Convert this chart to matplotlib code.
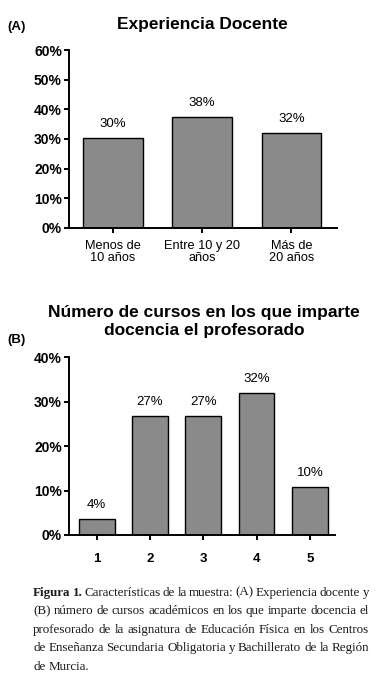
import numpy as np
import matplotlib
matplotlib.use('Agg')
import matplotlib.pyplot as plt

# (A) Experiencia docente
exp_labels = ['Menos de\n10 años', 'Entre 10 y 20\naños', 'Más de\n20 años']
exp_values = [30.4, 37.5, 32.1]
exp_text = ['30%', '38%', '32%']
exp_yticks = [0, 10, 20, 30, 40, 50, 60]

# (B) Número de cursos
cursos_labels = ['1', '2', '3', '4', '5']
cursos_values = [3.6, 26.8, 26.8, 32.0, 10.7]
cursos_text = ['4%', '27%', '27%', '32%', '10%']
cursos_yticks = [0, 10, 20, 30, 40]

caption_lines = [
    'Figura 1. Características de la muestra: (A) Experiencia docente y',
    '(B) número de cursos académicos en los que imparte docencia el',
    'profesorado de la asignatura de Educación Física en los Centros',
    'de Enseñanza Secundaria Obligatoria y Bachillerato de la Región',
    'de Murcia.',
]

W, H = 380, 679
SANS = 'Liberation Sans'
SERIF = 'Liberation Serif'
BAR = '#8a8a8a'

fig = plt.figure(figsize=(W / 100, H / 100), dpi=100)
fig.patch.set_facecolor('white')


def px(x, y):
    # pixel position (from top-left) -> figure coords
    return x / W, 1 - y / H


def axes_px(left, top, right, bottom):
    return fig.add_axes([left / W, 1 - bottom / H, (right - left) / W, (bottom - top) / H])


def bar_panel(ax, labels, values, texts, yticks, xlim, xlabel_pad):
    x = np.arange(len(values))
    ax.bar(x, values, width=0.67, color=BAR, edgecolor='black', linewidth=1.0, zorder=2)
    for xi, v, t in zip(x, values, texts):
        ax.annotate(t, (xi, v), xytext=(0, 8), textcoords='offset points',
                    ha='center', va='baseline', fontsize=9.5, family=SANS)
    ax.set_xlim(*xlim)
    ax.set_ylim(yticks[0], yticks[-1])
    ax.set_yticks(yticks)
    ax.set_yticklabels([f'{t}%' for t in yticks], fontsize=10, fontweight='bold', family=SANS)
    ax.set_xticks(x)
    ax.set_xticklabels(labels, family=SANS)
    for sp in ['top', 'right']:
        ax.spines[sp].set_visible(False)
    for sp in ['left', 'bottom']:
        ax.spines[sp].set_linewidth(1.4)
    ax.tick_params(axis='both', length=3.6, width=1.4, direction='out')
    ax.tick_params(axis='y', pad=1.5)
    ax.tick_params(axis='x', pad=xlabel_pad)
    ax.spines['left'].set_capstyle('projecting')
    ax.spines['bottom'].set_capstyle('projecting')


# panel A
axA = axes_px(69, 50, 337, 228)
bar_panel(axA, exp_labels, exp_values, exp_text, exp_yticks, (-0.49, 2.51), 5)
for lab in axA.get_xticklabels():
    lab.set_fontsize(9.2)
    lab.set_linespacing(1.0)

fig.text(*px(202, 29), 'Experiencia Docente', ha='center', va='baseline',
         fontsize=12.5, fontweight='bold', family=SANS)
fig.text(*px(7, 30), '(A)', ha='left', va='baseline',
         fontsize=9.5, fontweight='bold', family=SANS)

# panel B
axB = axes_px(69, 357.3, 335, 535)
bar_panel(axB, cursos_labels, cursos_values, cursos_text, cursos_yticks, (-0.52, 4.47), 9)
for lab in axB.get_xticklabels():
    lab.set_fontsize(9.5)
    lab.set_fontweight('bold')

fig.text(*px(204, 316.5), 'Número de cursos en los que imparte', ha='center', va='baseline',
         fontsize=12.5, fontweight='bold', family=SANS)
fig.text(*px(204, 335), 'docencia el profesorado', ha='center', va='baseline',
         fontsize=12.5, fontweight='bold', family=SANS)
fig.text(*px(7, 343), '(B)', ha='left', va='baseline',
         fontsize=9.5, fontweight='bold', family=SANS)

# caption, justified by hand
fig.canvas.draw()
r = fig.canvas.get_renderer()
x0, x1 = 33 / W, 369 / W
baselines = [595.7, 614.2, 632.6, 651.0, 669.5]
cap_size = 9.4
for i, line in enumerate(caption_lines):
    yb = 1 - baselines[i] / H
    words = line.split(' ')
    arts = []
    for j, w in enumerate(words):
        bold = (i == 0 and j < 2)
        arts.append(fig.text(0, yb, w, fontsize=cap_size, family=SERIF, va='baseline',
                             fontweight='bold' if bold else 'normal', color='#1a1a1a'))
    widths = [a.get_window_extent(r).width / W for a in arts]
    if i == len(caption_lines) - 1:
        gap = 3.2 / W
    else:
        gap = (x1 - x0 - sum(widths)) / (len(words) - 1)
    x = x0
    for a, wd in zip(arts, widths):
        a.set_x(x)
        x += wd + gap

fig.savefig('out.png', dpi=100, facecolor='white')
